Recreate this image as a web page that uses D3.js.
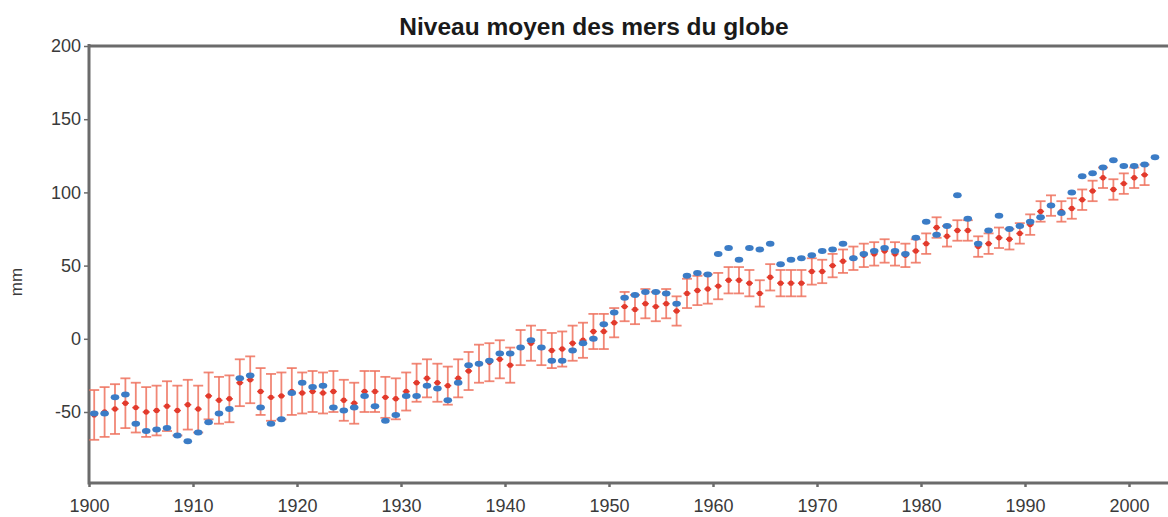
<!DOCTYPE html>
<html><head><meta charset="utf-8">
<script src="https://cdn.jsdelivr.net/npm/d3@7/dist/d3.min.js"></script>
<style>
html,body{margin:0;padding:0;background:#fff;}
svg{display:block;font-family:"Liberation Sans",Arial,sans-serif;}
</style></head>
<body><svg id="c" width="1168" height="517"></svg>
<script>
const title = "Niveau moyen des mers du globe";
const yLabel = "mm";
const firstYear = 1900;
const xTicks = [1900,1910,1920,1930,1940,1950,1960,1970,1980,1990,2000];
const yTicks = [-50,0,50,100,150,200];
// blue series (annual, 1900-2002)
const blueValues = [-51,-51,-40,-38,-58,-63,-62,-61,-66,-70,
 -64,-57,-51,-48,-27,-25,-47,-58,-55,-37,
 -30,-33,-32,-47,-49,-47,-39,-46,-56,-52,
 -39,-39,-32,-34,-42,-30,-18,-17,-15,-10,
 -10,-6,-1,-6,-15,-15,-8,-3,0,10,
 18,28,30,32,32,31,24,43,45,44,
 58,62,54,62,61,65,51,54,55,57,
 60,61,65,55,58,60,62,60,58,69,
 80,71,77,98,82,65,74,84,75,77,
 80,83,91,86,100,111,113,117,122,118,
 118,119,124];
// red series with error bars (annual, 1900-2001)
const redValues = [-52,-50,-48,-44,-47,-50,-49,-46,-49,-45,
 -48,-39,-42,-41,-30,-28,-36,-40,-39,-36,
 -37,-36,-37,-36,-42,-44,-36,-36,-40,-41,
 -36,-30,-27,-30,-32,-27,-22,-17,-16,-14,
 -18,-6,-3,-6,-8,-7,-3,-1,5,5,
 11,22,20,24,22,24,19,31,33,34,
 36,40,40,38,31,42,38,38,38,46,
 46,50,53,55,57,58,60,58,57,60,
 65,76,70,74,74,63,65,69,68,72,
 78,87,91,87,89,95,101,110,102,106,
 110,112];
// half-width of the red error bars, per decade (mm)
const redErrByDecade = [17,16,14,13,12,10,9,8,7,7,7];

const svg = d3.select("#c");
const W = 1168, H = 517;
const x = d3.scaleLinear().domain([1900, 2000]).range([89, 1129]);
const y = d3.scaleLinear().domain([-98.5, 200]).range([483, 46]);

const axisColor = "#6b6b6b";
const textColor = "#3a3a3a";

// title
svg.append("text").attr("x", 594).attr("y", 35).attr("text-anchor","middle")
  .attr("font-size", 24.5).attr("font-weight","bold").attr("fill","#1a1a1a").text(title);

// y label
svg.append("text").attr("transform","translate(22,282) rotate(-90)")
  .attr("text-anchor","middle").attr("font-size", 17).attr("fill", textColor).text(yLabel);

// y axis
const yAxis = d3.axisLeft(y).tickValues(yTicks).tickSize(5).tickPadding(3).tickFormat(d3.format("d"));
const gy = svg.append("g").attr("transform",`translate(${x(1900)},0)`).call(yAxis);
gy.select(".domain").remove();
gy.selectAll(".tick line").attr("stroke", axisColor).attr("stroke-width", 1.5);
gy.selectAll(".tick text").attr("font-size", 18).attr("fill", textColor)
  .attr("font-family","Liberation Sans, Arial, sans-serif").text(d => d < 0 ? "-" + Math.abs(d) : d);

// x axis
const xAxis = d3.axisBottom(x).tickValues(xTicks).tickSize(4).tickPadding(12).tickFormat(d3.format("d"));
const gx = svg.append("g").attr("transform",`translate(0,${y.range()[0]})`).call(xAxis);
gx.select(".domain").remove();
gx.selectAll(".tick line").attr("stroke", axisColor).attr("stroke-width", 2.5);
gx.selectAll(".tick text").attr("font-size", 18).attr("fill", textColor)
  .attr("font-family","Liberation Sans, Arial, sans-serif");

// frame lines
svg.append("line").attr("x1", x(1900)).attr("x2", W).attr("y1", y(-98.5)).attr("y2", y(-98.5))
  .attr("stroke", axisColor).attr("stroke-width", 3);
svg.append("line").attr("x1", x(1900)).attr("x2", W).attr("y1", y(200)).attr("y2", y(200))
  .attr("stroke", axisColor).attr("stroke-width", 3);
svg.append("line").attr("x1", x(1900)).attr("x2", x(1900)).attr("y1", y(200)-2).attr("y2", y(-98.5)+1.5)
  .attr("stroke", axisColor).attr("stroke-width", 3);

// red data with error bars
const redData = redValues.map((v,i) => ({year: firstYear + i, v, e: redErrByDecade[Math.floor(i/10)]}));
const capW = 5;
const gr = svg.append("g");
const rg = gr.selectAll("g").data(redData).join("g");
const errColor = "#ef735f";
const sw = 1.8;
rg.append("line").attr("x1", d => x(d.year+0.5)).attr("x2", d => x(d.year+0.5))
  .attr("y1", d => y(d.v - d.e)).attr("y2", d => y(d.v + d.e))
  .attr("stroke", errColor).attr("stroke-width", sw).attr("opacity",0.85);
rg.append("line").attr("x1", d => x(d.year+0.5)-capW).attr("x2", d => x(d.year+0.5)+capW)
  .attr("y1", d => y(d.v + d.e)).attr("y2", d => y(d.v + d.e))
  .attr("stroke", errColor).attr("stroke-width", sw).attr("opacity",0.85);
rg.append("line").attr("x1", d => x(d.year+0.5)-capW).attr("x2", d => x(d.year+0.5)+capW)
  .attr("y1", d => y(d.v - d.e)).attr("y2", d => y(d.v - d.e))
  .attr("stroke", errColor).attr("stroke-width", sw).attr("opacity",0.85);
rg.append("line").attr("x1", d => x(d.year+0.5)-3.5).attr("x2", d => x(d.year+0.5)+3.5)
  .attr("y1", d => y(d.v)).attr("y2", d => y(d.v))
  .attr("stroke", "#e8402f").attr("stroke-width", 1.5);
rg.append("circle").attr("cx", d => x(d.year+0.5)).attr("cy", d => y(d.v)).attr("r", 2.7)
  .attr("fill", "#e23a2c");

// blue data
const blueData = blueValues.map((v,i) => ({year: firstYear + i, v}));
svg.append("g").selectAll("ellipse").data(blueData).join("ellipse")
  .attr("cx", d => x(d.year+0.5)).attr("cy", d => y(d.v))
  .attr("rx", 4.3).attr("ry", 3).attr("fill", "#3b7cc6");
</script>
</body></html>
